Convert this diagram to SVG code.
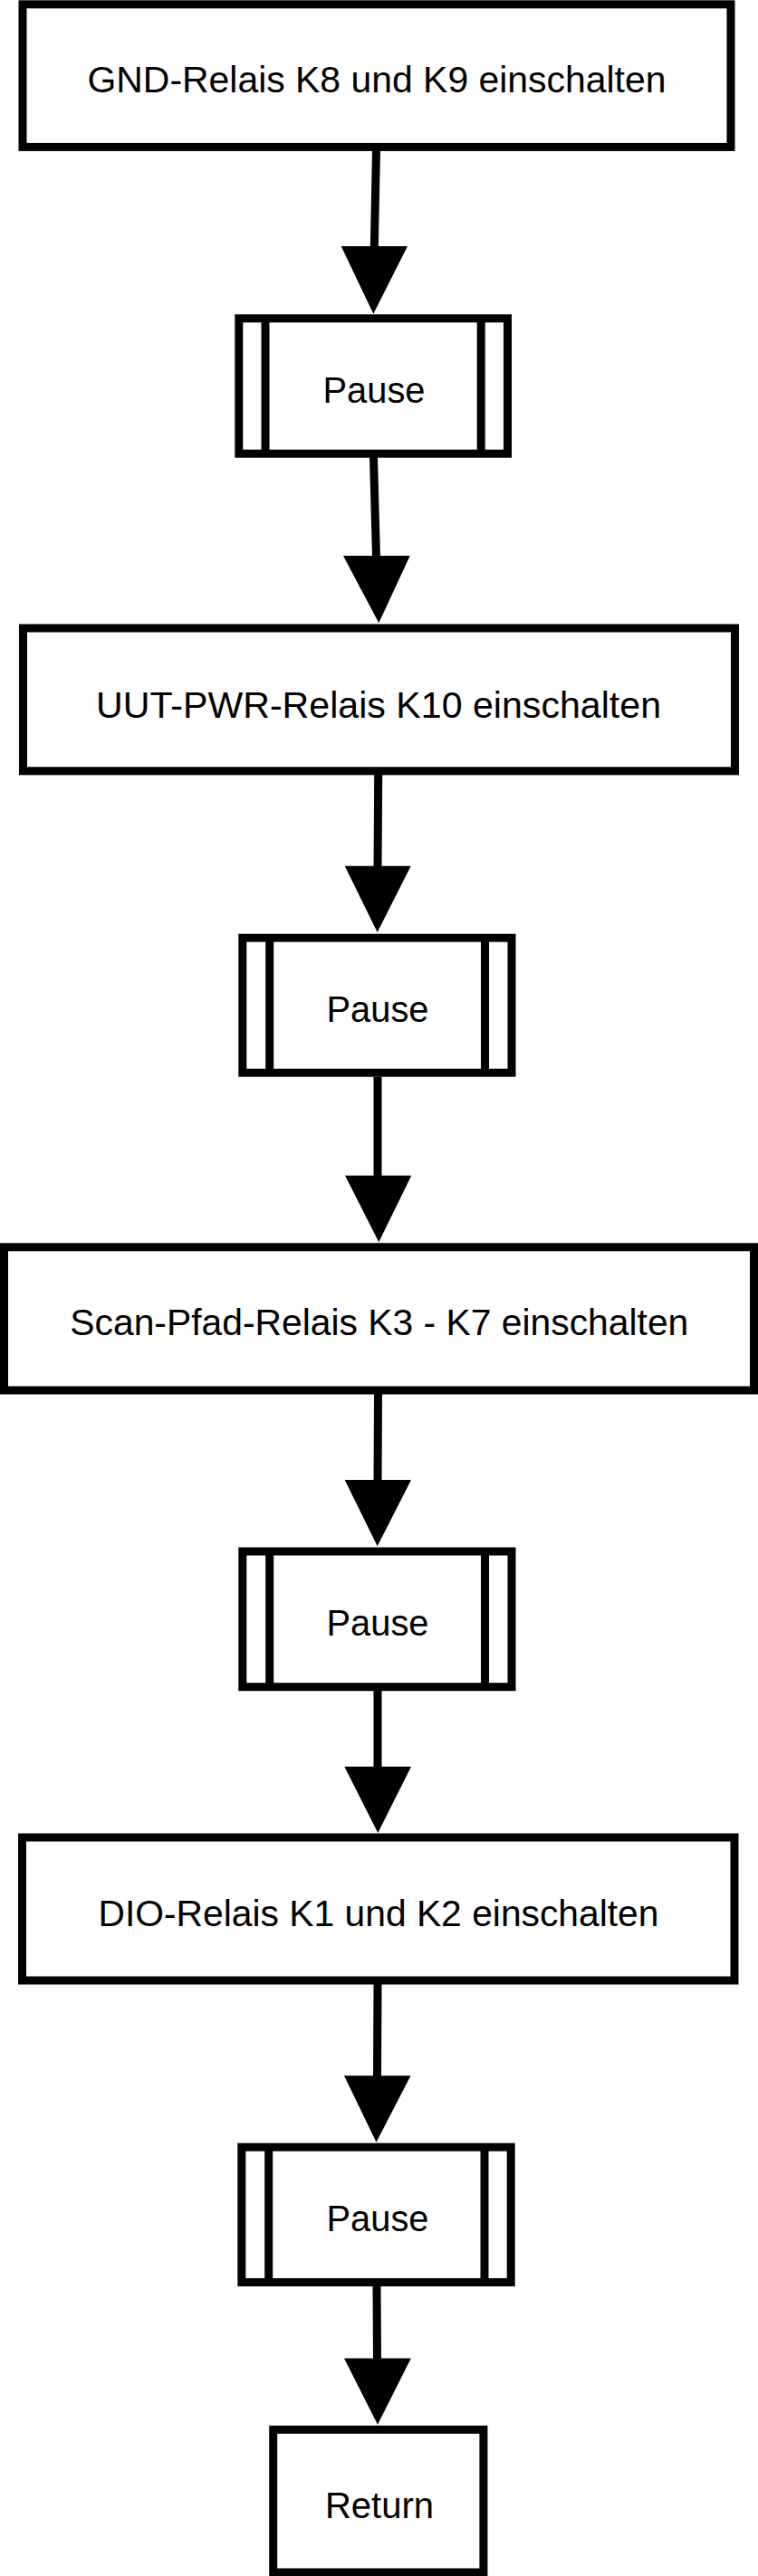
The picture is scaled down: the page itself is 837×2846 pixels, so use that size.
<svg xmlns="http://www.w3.org/2000/svg" width="837" height="2846" viewBox="0 0 837 2846">
<style>
.box{fill:#fff;stroke:#000;stroke-width:9}
.bar{stroke:#000;stroke-width:9}
.lbl{font-family:"Liberation Sans",Arial,Helvetica,sans-serif;font-size:41px;fill:#000;text-anchor:middle}
.edge{stroke:#000;stroke-width:9;fill:none}
.head{fill:#000;stroke:none}
</style>
<rect width="837" height="2846" fill="#fff"/>
<g id="connectors">
<line class="edge" x1="415.5" y1="166" x2="413.3" y2="274"/>
<polygon class="head" points="376.7,272 450,272 412.3,346.7"/>
<line class="edge" x1="412.5" y1="505" x2="415.5" y2="616"/>
<polygon class="head" points="379,614 452.7,614 418.3,688.3"/>
<line class="edge" x1="417.7" y1="856" x2="417" y2="958.7"/>
<polygon class="head" points="380.7,956.7 453.7,956.7 416.7,1030"/>
<line class="edge" x1="417" y1="1189.7" x2="417" y2="1300.7"/>
<polygon class="head" points="381,1298.7 454.3,1298.7 418.3,1372.3"/>
<line class="edge" x1="417.5" y1="1540" x2="417" y2="1637"/>
<polygon class="head" points="380.7,1635 454,1635 416.7,1708.3"/>
<line class="edge" x1="417" y1="1868" x2="417" y2="1953.7"/>
<polygon class="head" points="380.3,1951.7 454,1951.7 417.3,2025"/>
<line class="edge" x1="417" y1="2192" x2="416.5" y2="2295.3"/>
<polygon class="head" points="380,2293.3 453.5,2293.3 415.5,2366.7"/>
<line class="edge" x1="416" y1="2526" x2="416.5" y2="2607.4"/>
<polygon class="head" points="380,2605.4 453.8,2605.4 417,2678.8"/>
</g>
<g id="n1">
<rect class="box" x="25" y="4.8" width="782" height="157.6"/>
<text class="lbl" x="416" y="101.7" textLength="639" lengthAdjust="spacingAndGlyphs">GND-Relais K8 und K9 einschalten</text>
</g>
<g id="n2">
<rect class="box" x="263.8" y="351.8" width="296.7" height="149.4"/>
<line class="bar" x1="293" y1="351.8" x2="293" y2="501.2"/>
<line class="bar" x1="531.2" y1="351.8" x2="531.2" y2="501.2"/>
<text class="lbl" x="413" y="445" textLength="113" lengthAdjust="spacingAndGlyphs">Pause</text>
</g>
<g id="n3">
<rect class="box" x="25.5" y="694" width="786" height="157.8"/>
<text class="lbl" x="418" y="792.7" textLength="624" lengthAdjust="spacingAndGlyphs">UUT-PWR-Relais K10 einschalten</text>
</g>
<g id="n4">
<rect class="box" x="267.8" y="1036.2" width="297.2" height="149"/>
<line class="bar" x1="297.7" y1="1036.2" x2="297.7" y2="1185.2"/>
<line class="bar" x1="535.5" y1="1036.2" x2="535.5" y2="1185.2"/>
<text class="lbl" x="417" y="1128.7" textLength="113" lengthAdjust="spacingAndGlyphs">Pause</text>
</g>
<g id="n5">
<rect class="box" x="4.5" y="1377.8" width="828" height="158.2"/>
<text class="lbl" x="418.8" y="1475" textLength="683" lengthAdjust="spacingAndGlyphs">Scan-Pfad-Relais K3 - K7 einschalten</text>
</g>
<g id="n6">
<rect class="box" x="267.8" y="1714" width="297.2" height="149.7"/>
<line class="bar" x1="297.7" y1="1714" x2="297.7" y2="1863.7"/>
<line class="bar" x1="535.5" y1="1714" x2="535.5" y2="1863.7"/>
<text class="lbl" x="417" y="1806.7" textLength="113" lengthAdjust="spacingAndGlyphs">Pause</text>
</g>
<g id="n7">
<rect class="box" x="24.5" y="2030" width="786.5" height="158"/>
<text class="lbl" x="418" y="2127.7" textLength="619" lengthAdjust="spacingAndGlyphs">DIO-Relais K1 und K2 einschalten</text>
</g>
<g id="n8">
<rect class="box" x="266.8" y="2372.2" width="297.4" height="149.3"/>
<line class="bar" x1="296.7" y1="2372.2" x2="296.7" y2="2521.5"/>
<line class="bar" x1="535" y1="2372.2" x2="535" y2="2521.5"/>
<text class="lbl" x="417" y="2465.4" textLength="113" lengthAdjust="spacingAndGlyphs">Pause</text>
</g>
<g id="n9">
<rect class="box" x="301.7" y="2684.3" width="232.2" height="157.7"/>
<text class="lbl" x="419" y="2781.5" textLength="120" lengthAdjust="spacingAndGlyphs">Return</text>
</g>
</svg>
